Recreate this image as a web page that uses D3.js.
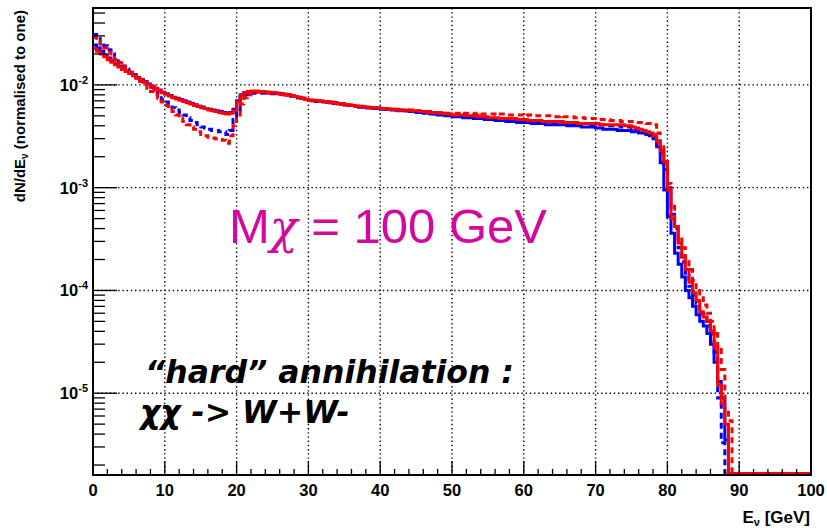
<!DOCTYPE html>
<html><head><meta charset="utf-8">
<script src="https://cdn.jsdelivr.net/npm/d3@7"></script>
<style>html,body{margin:0;padding:0;background:#fff}</style>
</head><body>
<svg id="c" width="827" height="528"></svg>
<script>
// histogram contents, in units of 1e-4, 0.5 GeV bins starting at 0 GeV
const UNIT = 1e-4;
const BIN_WIDTH = 0.5;

const redSolid = [
 225,212,200,188,176,166,157,149,141,135,
 129,123,117,112,106,101,97,92,88,84,
 81,78,75,73,71,69,67,65,63,62,
 60,59,57,56,55,54,53,52,53,56,
 68,79,84,86,87,87,86,86,85,85,
 84,83,82,81,80,79,77,76,74,72,
 71,71,70,70,69,68,68,67,66,65,
 64,64,63,62,62,61,61,60,60,60,
 59,59,58,58,58,57,57,57,57,56,
 56,55,55,54,54,54,53,53,52,52,
 51,51,51,51,50,50,50,49,49,49,
 48,48,48,47,47,47,47,47,46,46,
 46,45,45,45,45,44,44,44,44,44,
 44,43,43,43,43,42,42,42,42,42,
 42,41,41,41,41,41,41,41,40,40,
 39,38,37,36,35,34,32,28,23,18,
 9.5,5.0,4.2,2.9,2.1,1.6,1.2,0.95,0.8,0.62,
 0.55,0.5,0.4,0.28,0.12,0.08,0.05
];
const blueSolid = [
 245,228,212,197,183,171,160,151,143,136,
 130,124,118,112,107,102,97,93,89,85,
 82,79,76,74,72,70,68,66,64,62,
 61,59,58,57,56,55,54,53,54,58,
 70,80,84,85,86,86,86,85,85,84,
 84,83,82,81,80,78,77,75,74,72,
 71,70,70,69,69,68,67,67,66,65,
 64,63,63,62,61,61,60,60,59,59,
 58,58,58,57,57,56,56,56,55,55,
 54,54,53,53,52,52,51,51,50,50,
 49,49,49,48,48,48,47,47,47,46,
 46,46,45,45,45,44,44,44,43,43,
 43,43,42,42,42,42,41,41,41,41,
 41,41,40,40,40,40,39,39,39,39,
 38,38,37,37,37,37,36,36,36,36,
 35,35,34,34,33,32,30,25,17.5,9.5,
 5.2,3.6,2.3,1.8,1.35,1.0,0.85,0.7,0.58,0.5,
 0.45,0.38,0.3,0.2,0.13,0.09,0.035
];
const blueDashed = [
 310,285,260,240,220,200,182,166,153,143,
 134,126,119,113,107,102,95,87,79,72,
 68,64,60,57,54,51,48,45,43,41,
 39,38,37,36,36,35,35,33,36,46,
 57,77,80,82,83,84,84,83,83,82,
 82,81,81,80,79,78,76,75,73,72,
 71,70,69,69,68,68,67,66,66,65,
 64,63,63,62,61,61,60,60,60,59,
 59,58,58,57,57,57,56,56,55,55,
 55,54,54,53,53,52,52,52,51,51,
 50,50,50,49,49,49,48,48,48,47,
 47,47,47,46,46,46,46,45,45,45,
 45,45,44,44,44,44,44,43,43,43,
 43,43,43,42,42,42,42,42,41,41,
 41,41,41,40,40,40,40,39,39,39,
 38,37,36,35,34,33,31,27,22,15,
 10,5.5,4.0,2.6,1.9,1.4,1.1,0.9,0.75,0.6,
 0.55,0.45,0.38,0.25,0.09,0.033
];
const redDashed = [
 290,268,248,228,208,192,177,164,152,142,
 133,124,116,108,100,93,86,80,74,68,
 63,59,55,51,47,44,41,39,37,35,
 33,32,31,30.5,30,29.5,29,27,32,40,
 49,65,75,80,83,85,85,84,84,83,
 83,82,81,80,79,78,77,75,74,72,
 71,70,70,69,68,68,67,66,65,65,
 64,63,63,62,62,61,61,60,60,59,
 59,59,58,58,58,57,57,57,56,56,
 56,55,55,55,54,54,54,53,53,53,
 53,53,52,53,53,53,52,53,52,52,
 52,52,51,52,52,51,51,51,51,51,
 50,51,51,50,50,50,50,50,49,49,
 50,49,49,49,48,48,48,47,47,47,
 47,46,46,46,45,45,45,44,44,44,
 44,43,43,43,42,42,41,34,25,18.6,
 11,6.6,4.2,3.3,2.6,2.0,1.6,1.25,1.0,0.85,
 0.72,0.6,0.5,0.38,0.28,0.17,0.07,0.054
];

const xTickValues = [0,10,20,30,40,50,60,70,80,90,100];
const yTickExponents = [-2,-3,-4,-5];

const X_DOMAIN = [0, 100];
const Y_DOMAIN = [1.6e-6, 0.056];

const svg = d3.select("#c");
const L = 93, R = 811, T = 8, B = 475;
const x = d3.scaleLinear().domain(X_DOMAIN).range([L, R]);
const y = d3.scaleLog().domain(Y_DOMAIN).range([B, T]);

svg.append("rect").attr("width", 827).attr("height", 528).attr("fill", "#fff");

// grid
const grid = svg.append("g").attr("stroke", "#000").attr("stroke-width", 1.4).attr("stroke-dasharray", "1.4,2.8");
xTickValues.filter(v => v > X_DOMAIN[0] && v < X_DOMAIN[1]).forEach(v => {
  grid.append("line").attr("x1", x(v)).attr("x2", x(v)).attr("y1", T).attr("y2", B);
});
yTickExponents.forEach(e => {
  grid.append("line").attr("x1", L).attr("x2", R).attr("y1", y(Math.pow(10, e))).attr("y2", y(Math.pow(10, e)));
});

// clip
svg.append("clipPath").attr("id", "clip").append("rect")
  .attr("x", L).attr("y", T).attr("width", R - L).attr("height", B - T);

const line = d3.line()
  .x(d => x(d[0]))
  .y(d => d[1] > 0 ? y(d[1] * UNIT) : y(Y_DOMAIN[0]) - 1.5)
  .curve(d3.curveStepAfter);

function histPoints(vals) {
  const pts = vals.map((v, i) => [i * BIN_WIDTH, v]);
  pts.push([vals.length * BIN_WIDTH, 0]);
  pts.push([X_DOMAIN[1], 0]);
  return pts;
}

const series = [
  {vals: blueSolid, color: "#0000ff", dash: null},
  {vals: blueDashed, color: "#0000ff", dash: "6,4"},
  {vals: redDashed, color: "#ff0000", dash: "6,4"},
  {vals: redSolid, color: "#ff0000", dash: null}
];
const hg = svg.append("g").attr("clip-path", "url(#clip)");
series.forEach(s => {
  hg.append("path").attr("d", line(histPoints(s.vals)))
    .attr("fill", "none").attr("stroke", s.color).attr("stroke-width", 3)
    .attr("stroke-dasharray", s.dash);
});

// frame
svg.append("rect").attr("x", L).attr("y", T).attr("width", R - L).attr("height", B - T)
  .attr("fill", "none").attr("stroke", "#000").attr("stroke-width", 2);

// x ticks
const tk = svg.append("g").attr("stroke", "#000").attr("stroke-width", 1.3);
d3.range(0, 101, 2).forEach(v => {
  const major = v % 10 === 0;
  if (v === 0 || v === 100) return;
  tk.append("line").attr("x1", x(v)).attr("x2", x(v)).attr("y1", B).attr("y2", B - (major ? 14 : 6));
});
// y ticks
for (let e = -6; e <= -2; e++) {
  for (let k = 1; k <= 9; k++) {
    const v = k * Math.pow(10, e);
    if (v < Y_DOMAIN[0] || v > Y_DOMAIN[1]) continue;
    const major = k === 1;
    tk.append("line").attr("x1", L).attr("x2", L + (major ? 24 : 12)).attr("y1", y(v)).attr("y2", y(v));
  }
}

// tick labels
const font = "'Liberation Sans', Arial, sans-serif";
svg.append("g").selectAll("text").data(xTickValues).join("text")
  .attr("x", d => x(d)).attr("y", 496).attr("text-anchor", "middle")
  .attr("font-family", font).attr("font-weight", "bold").attr("font-size", 16.5)
  .text(d => d);

const yl = svg.append("g").selectAll("text").data(yTickExponents).join("text")
  .attr("x", 88).attr("y", d => y(Math.pow(10, d)) + 6).attr("text-anchor", "end")
  .attr("font-family", font).attr("font-weight", "bold").attr("font-size", 16.5);
yl.append("tspan").text("10");
yl.append("tspan").attr("dy", -7).attr("font-size", 11).text(d => d);

// axis titles
const yt = svg.append("text").attr("transform", "translate(25,10) rotate(-90)")
  .attr("text-anchor", "end").attr("font-family", font).attr("font-weight", "bold").attr("font-size", 15);
yt.append("tspan").text("dN/dE");
yt.append("tspan").attr("dy", 3).attr("font-size", 10).text("ν");
yt.append("tspan").attr("dy", -3).text(" (normalised to one)");

const xt = svg.append("text").attr("x", 810).attr("y", 523)
  .attr("text-anchor", "end").attr("font-family", font).attr("font-weight", "bold").attr("font-size", 17);
xt.append("tspan").text("E");
xt.append("tspan").attr("dy", 3).attr("font-size", 11).text("ν");
xt.append("tspan").attr("dy", -3).text(" [GeV]");

// annotations
const mt = svg.append("text").attr("x", 229).attr("y", 243)
  .attr("fill", "#d4089c").attr("font-family", font).attr("font-size", 49);
mt.append("tspan").text("M");
mt.append("tspan").attr("font-family", "'DejaVu Serif', serif").attr("font-style", "italic").attr("font-size", 46).text("χ");
mt.append("tspan").text(" = 100 GeV");

const ann = "'DejaVu Sans', Verdana, sans-serif";
svg.append("text").attr("x", 145).attr("y", 383)
  .attr("font-family", ann).attr("font-weight", "bold").attr("font-style", "italic").attr("font-size", 31.5)
  .text("“hard” annihilation :");
svg.append("text").attr("x", 140).attr("y", 423)
  .attr("font-family", ann).attr("font-weight", "bold").attr("font-style", "italic").attr("font-size", 31.5)
  .text("χχ -> W+W-");
</script>
</body></html>
